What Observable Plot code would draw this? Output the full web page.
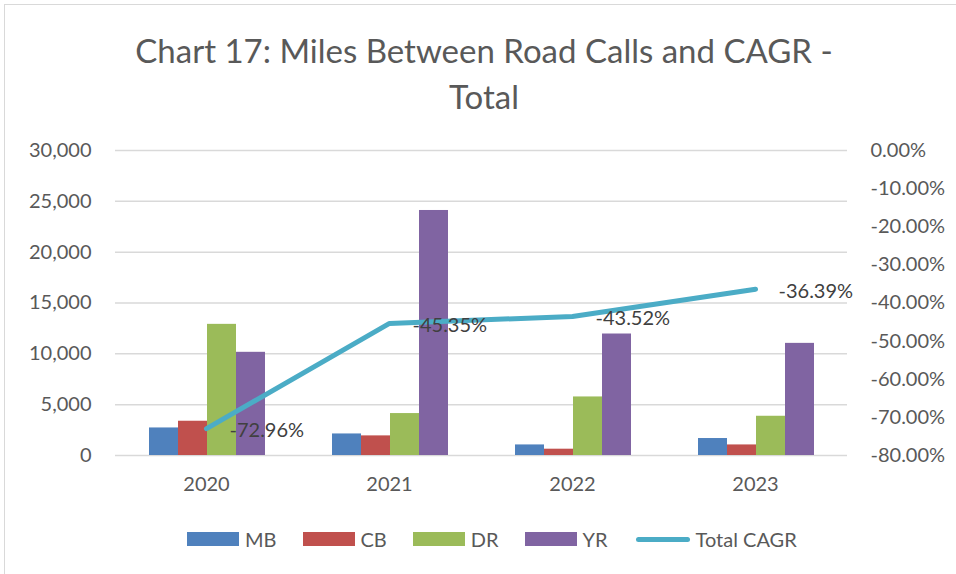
<!DOCTYPE html>
<html><head><meta charset="utf-8">
<script src="https://cdn.jsdelivr.net/npm/d3@7"></script>
<script src="https://cdn.jsdelivr.net/npm/@observablehq/plot@0.6"></script>
<style>
body{margin:0;background:#fff;font-family:Lato, "Open Sans", sans-serif;}
#wrap{position:relative;width:956px;height:574px;overflow:hidden;background:#fff;}
#frame{position:absolute;left:4px;top:4px;width:980px;height:600px;border-left:1.5px solid #d9d9d9;border-top:1.5px solid #d9d9d9;}
#title{position:absolute;left:4px;width:960px;top:27px;text-align:center;font-size:33px;line-height:46px;color:#595959;}
.layer{position:absolute;left:0;top:130px;}
#legend{position:absolute;left:187px;top:530px;display:flex;align-items:center;font-size:20px;color:#595959;height:18px;}
.item{display:flex;align-items:center;margin-right:26px;}
.sw{width:52px;height:14px;margin-right:6px;}
.ln{width:54px;height:5px;border-radius:3px;margin-right:6px;margin-left:2px;}
</style></head>
<body>
<div id="wrap">
  <div id="frame"></div>
  <div id="title">Chart 17: Miles Between Road Calls and CAGR -<br>Total</div>
  <div id="bars" class="layer"></div>
  <div id="line" class="layer"></div>
  <div id="legend"></div>
</div>
<script>
const years = ["2020", "2021", "2022", "2023"];
const series = ["MB", "CB", "DR", "YR"];
const MB = [2710, 2120, 1040, 1670];
const CB = [3370, 1930, 620, 1040];
const DR = [12900, 4125, 5760, 3860];
const YR = [10150, 24100, 11950, 11030];
const totalCAGR = [-72.96, -45.35, -43.52, -36.39];
const leftTicks = [0, 5000, 10000, 15000, 20000, 25000, 30000];
const rightTicks = [0, -10, -20, -30, -40, -50, -60, -70, -80];
const colors = ["#4F81BD", "#C0504D", "#9BBB59", "#8064A2"];
const lineColor = "#4BACC6";

const valuesBySeries = {MB, CB, DR, YR};
const rows = [];
years.forEach((y, i) => series.forEach(s => rows.push({year: y, series: s, value: valuesBySeries[s][i]})));
const lineRows = years.map((y, i) => ({year: y, cagr: totalCAGR[i]}));

const common = {
  width: 956, height: 380,
  marginTop: 20, marginBottom: 55, marginLeft: 113, marginRight: 108,
  style: {fontFamily: "Lato, 'Open Sans', sans-serif", fontSize: "20px", color: "#595959", background: "transparent", overflow: "visible"}
};

const bars = Plot.plot({
  ...common,
  fx: {domain: years, padding: 0, axis: null, label: null},
  x: {domain: series, paddingInner: 0, paddingOuter: 1.1, axis: null},
  y: {domain: [0, 30000], ticks: leftTicks, tickFormat: d3.format(","), tickSize: 0, tickPadding: 24, label: null},
  color: {domain: series, range: colors},
  marks: [
    Plot.ruleY(leftTicks, {stroke: "#d9d9d9", strokeWidth: 1.5}),
    Plot.barY(rows, {fx: "year", x: "series", y: "value", fill: "series"})
  ]
});
document.getElementById("bars").appendChild(bars);

const line = Plot.plot({
  ...common,
  x: {type: "point", domain: years, padding: 0.5, tickSize: 0, tickPadding: 21, label: null},
  y: {domain: [-80, 0], axis: "right", ticks: rightTicks, tickFormat: d => d.toFixed(2) + "%", tickSize: 0, tickPadding: 22, label: null},
  marks: [
    Plot.line(lineRows, {x: "year", y: "cagr", stroke: lineColor, strokeWidth: 5, strokeLinecap: "round", strokeLinejoin: "round"}),
    Plot.text(lineRows, {x: "year", y: "cagr", text: d => d.cagr.toFixed(2) + "%", textAnchor: "start", dx: 23, dy: 2, fill: "#404040", fontSize: 20})
  ]
});
document.getElementById("line").appendChild(line);

const legend = document.getElementById("legend");
series.forEach((s, i) => {
  const it = document.createElement("div"); it.className = "item";
  it.innerHTML = `<div class="sw" style="background:${colors[i]}"></div><span>${s}</span>`;
  legend.appendChild(it);
});
const it = document.createElement("div"); it.className = "item";
it.innerHTML = `<div class="ln" style="background:${lineColor}"></div><span>Total CAGR</span>`;
legend.appendChild(it);
</script>
</body></html>
